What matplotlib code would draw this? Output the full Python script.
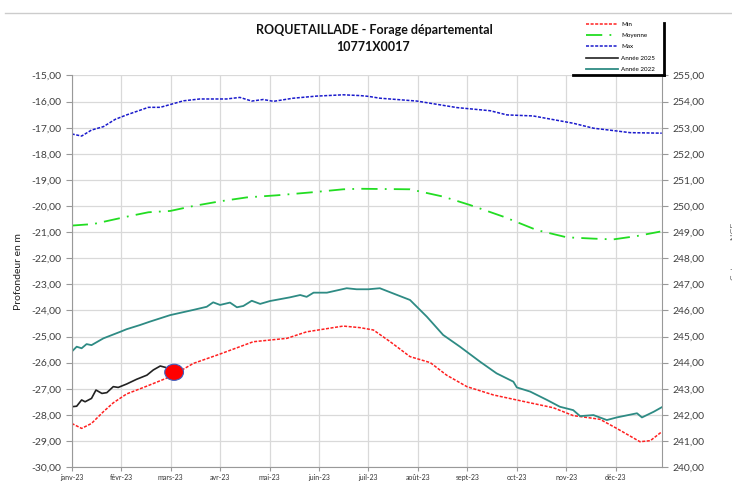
import numpy as np
import matplotlib.pyplot as plt
from matplotlib.patches import Ellipse
from matplotlib.lines import Line2D
from matplotlib.ticker import FuncFormatter

plt.rcParams['font.family'] = ['Lato', 'DejaVu Sans']

# x = months since 1 Jan (fractional)
months = ["janv-23", "févr-23", "mars-23", "avr-23", "mai-23", "juin-23",
          "juil-23", "août-23", "sept-23", "oct-23", "nov-23", "déc-23"]

max_x = [0.00, 0.20, 0.40, 0.64, 0.88, 1.11, 1.55, 1.79, 2.26, 2.59, 3.13, 3.40,
         3.64, 3.87, 4.08, 4.48, 4.95, 5.49, 5.83, 6.00, 6.23, 6.98, 7.79, 8.46,
         8.80, 9.33, 10.14, 10.55, 10.95, 11.29, 11.93]
max_y = [-17.24, -17.32, -17.09, -16.96, -16.68, -16.51, -16.22, -16.22, -15.97,
         -15.90, -15.90, -15.84, -15.98, -15.92, -15.99, -15.87, -15.79, -15.74,
         -15.77, -15.80, -15.87, -15.98, -16.23, -16.35, -16.51, -16.55, -16.83,
         -17.02, -17.11, -17.19, -17.21]

moy_x = [0.00, 0.44, 1.11, 1.55, 1.99, 2.46, 3.00, 3.54, 4.15, 4.89, 5.49, 5.83,
         6.84, 7.51, 8.05, 8.73, 9.40, 10.01, 10.55, 10.95, 11.43, 11.90]
moy_y = [-20.75, -20.69, -20.41, -20.24, -20.19, -20.00, -19.82, -19.67, -19.59,
         -19.47, -19.36, -19.34, -19.36, -19.64, -19.96, -20.41, -20.92, -21.20,
         -21.25, -21.28, -21.15, -20.98]

min_x = [0.00, 0.20, 0.40, 0.64, 0.84, 1.11, 1.52, 1.99, 2.46, 3.00, 3.67, 4.35,
         4.75, 5.49, 5.83, 6.10, 6.44, 6.84, 7.25, 7.58, 7.99, 8.53, 9.07, 9.74,
         10.14, 10.68, 11.02, 11.49, 11.70, 11.93]
min_y = [-28.33, -28.52, -28.33, -27.88, -27.54, -27.20, -26.90, -26.54, -26.03,
         -25.67, -25.20, -25.07, -24.82, -24.60, -24.66, -24.75, -25.20, -25.77,
         -26.00, -26.48, -26.92, -27.24, -27.46, -27.73, -28.03, -28.17, -28.52,
         -29.03, -28.99, -28.65]

y2022_x = [0.00, 0.10, 0.20, 0.30, 0.40, 0.64, 0.98, 1.11, 1.38, 1.58, 1.99, 2.46,
           2.73, 2.86, 3.00, 3.20, 3.34, 3.47, 3.64, 3.81, 4.01, 4.41, 4.62, 4.75,
           4.89, 5.16, 5.56, 5.76, 6.00, 6.23, 6.50, 6.84, 7.18, 7.51, 7.85, 8.26,
           8.59, 8.93, 9.00, 9.27, 9.61, 9.87, 10.14, 10.28, 10.55, 10.82, 11.02,
           11.43, 11.53, 11.77, 11.93]
y2022_y = [-25.58, -25.39, -25.45, -25.29, -25.33, -25.07, -24.82, -24.72, -24.56,
           -24.43, -24.18, -23.98, -23.86, -23.69, -23.79, -23.70, -23.88, -23.83,
           -23.63, -23.75, -23.64, -23.50, -23.41, -23.48, -23.32, -23.32, -23.15,
           -23.19, -23.19, -23.15, -23.35, -23.60, -24.24, -24.94, -25.39, -25.97,
           -26.41, -26.73, -26.95, -27.11, -27.43, -27.69, -27.82, -28.05, -28.01,
           -28.20, -28.10, -27.94, -28.10, -27.88, -27.71]

y2025_x = [0.00, 0.10, 0.20, 0.27, 0.40, 0.49, 0.61, 0.71, 0.84, 0.94, 1.11, 1.31,
           1.52, 1.65, 1.79, 1.89]
y2025_y = [-27.69, -27.67, -27.43, -27.50, -27.37, -27.05, -27.18, -27.15, -26.92,
           -26.95, -26.82, -26.64, -26.48, -26.28, -26.13, -26.18]

last_x, last_y = 2.07, -26.37

fig = plt.figure(figsize=(7.32, 4.87), dpi=100, facecolor="white")
ax = fig.add_axes([0.098, 0.041, 0.806, 0.804])

ax.plot(min_x, min_y, color="#ff2020", lw=1.1, ls=(0, (2, 1)), label="Min")
ax.plot(moy_x, moy_y, color="#22dd22", lw=1.3, ls=(0, (9, 4, 1, 4)), label="Moyenne")
ax.plot(max_x, max_y, color="#1a1acc", lw=1.1, ls=(0, (2, 1)), label="Max")
ax.plot(y2025_x, y2025_y, color="#222222", lw=1.2, label="Année 2025")
ax.plot(y2022_x, y2022_y, color="#2e8b84", lw=1.3, label="Année 2022")
ax.add_patch(Ellipse((last_x, last_y), 0.38, 0.62, facecolor="#ff0000",
                     edgecolor="#4060c0", lw=0.8, zorder=5))

ax.set_xlim(0, 11.93)
ax.set_ylim(-30, -15)
ax.set_xticks(range(12))
ax.set_xticklabels(months, fontsize=5, color="#333333")
ax.set_yticks(np.arange(-30, -14, 1))
ax.yaxis.set_major_formatter(FuncFormatter(lambda v, p: f"{v:.2f}".replace(".", ",")))
ax.tick_params(axis="y", labelsize=7.5, labelcolor="#404040", color="#999999", length=4)
ax.tick_params(axis="x", color="#999999", length=3, pad=2)
ax.grid(True, color="#d9d9d9", lw=0.9)
ax.set_axisbelow(True)
for side in ["left", "right", "bottom"]:
    ax.spines[side].set_color("#999999")
ax.spines["top"].set_visible(False)
ax.set_ylabel("Profondeur en m", fontsize=7.5, color="#222222", labelpad=6)

ax2 = ax.twinx()
ax2.set_ylim(240, 255)
ax2.set_yticks(np.arange(240, 256, 1))
ax2.yaxis.set_major_formatter(FuncFormatter(lambda v, p: f"{v:.2f}".replace(".", ",")))
ax2.tick_params(axis="y", labelsize=7.5, labelcolor="#404040", color="#999999", length=4)
for side in ["left", "right", "bottom", "top"]:
    ax2.spines[side].set_visible(False)
ax2.set_ylabel("Cote en m NGF", fontsize=6, color="#666666")
ax2.yaxis.set_label_coords(1.118, 0.55)

fig.text(0.512, 0.938, "ROQUETAILLADE - Forage départemental", ha="center",
         va="center", fontsize=9, fontweight="bold", color="#111111")
fig.text(0.51, 0.903, "10771X0017", ha="center", va="center",
         fontsize=9, fontweight="bold", color="#111111")

leg = ax.legend(loc="lower left", bbox_to_anchor=(0.80, 0.852), bbox_transform=fig.transFigure,
                fontsize=4.5, frameon=False, handlelength=5.2, handletextpad=0.5,
                labelspacing=0.95, borderaxespad=0, borderpad=0)

# legend shadow and chart-area border
fig.add_artist(Line2D([664 / 732, 664 / 732], [1 - 23 / 487, 1 - 75 / 487], color="black", lw=2))
fig.add_artist(Line2D([573 / 732, 664 / 732], [1 - 75 / 487, 1 - 75 / 487], color="black", lw=2))
fig.add_artist(Line2D([5 / 732, 1.0], [1 - 13 / 487, 1 - 13 / 487], color="#cccccc", lw=1))

fig.savefig("out.png", dpi=100)
